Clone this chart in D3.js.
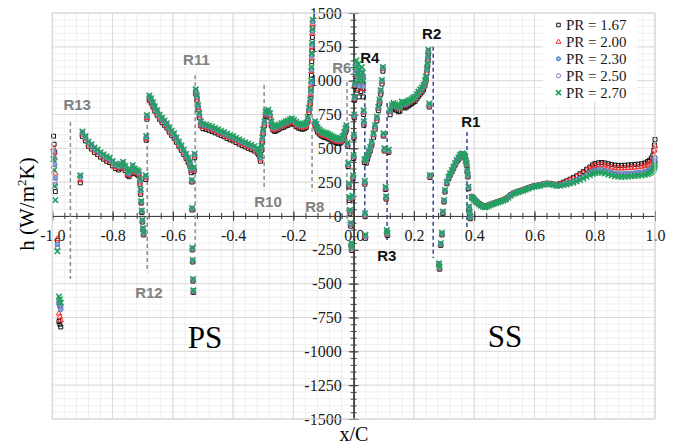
<!DOCTYPE html>
<html>
<head>
<meta charset="utf-8">
<script src="https://cdn.jsdelivr.net/npm/d3@7"></script>
<style>
  body { margin: 0; background: #fff; }
</style>
</head>
<body>
<script>
// x/C stations shared by every series (PS: -1..0, SS: 0..1)
const xc = [
  -0.996,-0.994,-0.992,-0.990,-0.983,-0.978,-0.975,-0.972,
  -0.907,
  -0.900,-0.890,-0.880,-0.870,-0.860,-0.850,-0.840,-0.830,-0.820,-0.810,-0.800,-0.790,-0.780,-0.772,-0.765,-0.758,-0.750,-0.745,-0.740,-0.733,-0.726,-0.719,-0.713,-0.709,-0.707,
  -0.705,-0.703,-0.701,-0.699,-0.697,
  -0.690,-0.688,-0.686,
  -0.678,-0.672,-0.666,-0.660,-0.652,-0.644,-0.636,-0.628,-0.620,-0.612,-0.604,-0.596,-0.588,-0.580,-0.572,-0.564,-0.556,-0.549,-0.543,-0.539,
  -0.537,-0.536,-0.535,-0.534,-0.533,-0.532,
  -0.530,-0.528,
  -0.524,-0.520,-0.516,-0.512,-0.507,-0.500,-0.490,-0.480,-0.470,-0.460,-0.450,-0.440,-0.430,-0.420,-0.410,-0.400,-0.390,-0.380,-0.370,-0.360,-0.350,-0.340,-0.330,-0.320,-0.316,-0.312,-0.309,-0.306,-0.303,-0.300,-0.296,-0.292,
  -0.288,-0.283,-0.278,-0.273,-0.268,-0.262,-0.255,-0.248,-0.240,-0.232,-0.225,-0.218,-0.211,-0.205,-0.198,-0.191,-0.184,-0.177,-0.170,-0.163,-0.157,-0.152,-0.148,-0.144,
  -0.142,-0.141,-0.140,-0.139,-0.138,-0.137,-0.136,
  -0.128,-0.124,-0.120,-0.114,-0.108,-0.102,-0.096,-0.090,-0.084,-0.078,-0.072,-0.066,-0.060,-0.054,-0.048,-0.042,-0.036,-0.031,-0.027,-0.024,
  -0.020,-0.018,-0.016,-0.014,-0.012,-0.010,-0.008,-0.006,
  -0.004,-0.002,0.000,0.001,0.002,0.003,0.004,
  0.006,0.009,0.012,0.015,0.018,0.021,0.024,0.027,0.030,0.032,
  0.033,0.034,0.036,0.037,0.038,0.039,
  0.042,0.046,0.050,0.055,0.060,0.066,0.071,0.077,0.082,0.086,0.090,0.094,0.097,
  0.099,0.102,0.106,0.108,0.110,0.112,0.116,
  0.121,0.127,0.132,0.138,0.143,0.149,0.154,0.160,0.165,0.171,0.177,0.182,0.187,0.193,0.198,0.204,0.210,0.215,0.221,0.227,0.232,0.237,0.240,0.243,0.245,0.247,0.248,
  0.251,0.253,
  0.283,0.285,0.289,0.293,0.296,0.300,0.303,0.309,0.315,0.320,0.326,0.331,0.337,0.342,0.348,0.353,0.358,0.362,0.366,0.370,0.373,0.375,0.377,0.379,0.381,0.383,0.385,0.387,
  0.392,0.396,0.400,0.405,0.410,0.416,0.422,0.429,0.436,0.443,0.450,0.457,0.464,0.472,0.480,0.488,0.497,0.505,0.513,0.521,0.530,0.538,0.546,0.555,0.563,0.571,0.580,0.591,0.600,0.610,0.619,0.630,0.641,0.652,
  0.663,0.674,0.685,0.696,0.707,0.718,0.729,0.740,0.751,0.762,0.773,0.784,0.793,0.801,0.812,0.823,0.834,0.845,0.856,0.867,0.878,0.889,0.900,0.911,0.922,0.933,0.944,0.955,0.966,0.975,0.982,0.988,0.993,0.996,0.998,1.000
];

// h (W/m2K), PR = 1.67
const h167 = [
  590,530,470,180,-180,-780,-800,-820,
  245,
  588,555,515,495,470,455,435,420,405,395,370,350,340,350,365,335,300,290,310,340,315,305,295,235,160,
  95,25,-45,-105,-140,
  270,560,715,
  855,835,805,775,745,715,690,670,650,620,595,575,545,515,485,455,425,395,365,320,
  251,44,-251,-340,-481,-565,
  330,430,
  900,855,785,725,665,645,640,633,625,615,605,595,585,573,563,555,543,531,521,510,500,490,480,465,455,435,405,485,545,605,665,735,
  740,750,725,665,635,625,630,640,650,655,665,670,680,687,675,660,650,645,641,645,655,695,765,825,
  870,940,1040,1140,1220,1320,1390,
  665,645,620,605,593,585,580,577,570,563,555,548,543,537,535,540,555,585,615,635,
  515,365,215,115,20,-75,-225,-255,
  125,275,425,575,725,855,955,
  980,1030,930,1000,880,960,920,980,940,880,
  750,670,395,235,-5,-165,
  390,420,450,480,520,580,640,704,778,830,900,975,1070,
  590,480,195,125,-125,-145,470,
  748,785,800,790,780,770,775,810,805,798,805,815,822,830,840,847,865,884,900,915,933,965,995,1055,1093,1145,1192,
  805,285,
  -365,-393,-217,-140,17,103,177,238,275,300,325,349,375,399,417,436,443,448,440,423,395,374,325,288,201,54,15,-20,
  144,136,126,113,104,93,83,75,70,75,83,89,95,101,107,113,119,129,141,156,169,176,183,189,193,201,209,217,223,227,230,237,242,239,
  236,232,240,250,260,272,285,297,312,328,346,362,378,387,393,395,392,386,380,376,374,374,375,377,379,381,383,386,392,402,412,428,450,485,525,565
];

// PR = 2.00
const h200 = [
  500,470,430,315,-170,-720,-745,-770,
  265,
  601,568,528,508,483,468,448,433,418,408,383,363,353,363,378,348,313,303,323,353,328,318,308,248,173,
  100,30,-40,-100,-135,
  280,570,725,
  868,848,818,788,758,728,703,683,663,633,608,588,558,528,498,468,438,408,378,333,
  256,49,-246,-335,-476,-560,
  340,440,
  913,868,798,738,678,658,653,646,638,628,618,608,598,586,576,568,556,544,534,523,513,503,493,478,468,448,418,498,558,618,678,748,
  753,763,738,678,648,638,643,653,663,668,678,683,693,700,688,673,663,658,654,658,668,708,778,838,
  900,970,1070,1170,1250,1350,1420,
  678,658,633,618,606,598,593,590,583,576,568,561,556,550,548,553,568,598,628,648,
  525,375,225,125,30,-65,-215,-245,
  135,285,435,585,735,865,965,
  1040,1090,990,1060,940,1020,980,1040,1000,940,
  765,685,405,245,5,-155,
  405,435,465,495,535,595,655,719,793,845,915,990,1085,
  595,485,200,130,-120,-140,475,
  768,805,820,810,800,790,795,830,825,818,825,835,842,850,860,867,885,904,920,935,953,985,1015,1075,1113,1165,1212,
  815,293,
  -360,-388,-212,-135,22,108,182,243,280,305,330,354,380,404,422,441,448,453,445,428,400,379,330,293,206,59,20,-15,
  142,134,124,111,102,91,81,73,68,73,81,87,93,99,105,111,117,127,139,154,167,174,181,187,191,199,207,215,221,225,228,235,240,237,
  234,229,236,245,254,265,277,288,302,317,334,349,363,371,376,377,374,367,360,355,352,352,353,355,357,359,361,364,370,379,388,400,420,450,485,515
];

// PR = 2.30
const h230 = [
  480,420,380,280,-210,-650,-670,-690,
  290,
  613,580,540,520,495,480,460,445,430,420,395,375,365,375,390,360,325,315,335,365,340,330,320,260,185,
  105,35,-35,-95,-130,
  290,580,735,
  880,860,830,800,770,740,715,695,675,645,620,600,570,540,510,480,450,420,390,345,
  261,54,-241,-330,-471,-555,
  350,450,
  925,880,810,750,690,670,665,658,650,640,630,620,610,598,588,580,568,556,546,535,525,515,505,490,480,460,430,510,570,630,690,760,
  765,775,750,690,660,650,655,665,675,680,690,695,705,712,700,685,675,670,666,670,680,720,790,850,
  915,985,1085,1185,1265,1365,1435,
  690,670,645,630,618,610,605,602,595,588,580,573,568,562,560,565,580,610,640,660,
  530,380,230,130,35,-60,-210,-240,
  140,290,440,590,740,870,970,
  1060,1110,1010,1080,960,1040,1000,1060,1020,960,
  770,690,410,250,10,-150,
  412,442,472,502,542,602,662,726,800,852,922,997,1092,
  602,492,207,137,-113,-133,482,
  775,812,827,817,807,797,802,837,832,825,832,842,849,857,867,874,892,911,927,942,960,992,1022,1082,1120,1172,1219,
  822,298,
  -355,-383,-207,-130,27,113,187,248,285,310,335,359,385,409,427,446,453,458,450,433,405,384,335,298,211,64,25,-10,
  140,132,122,109,100,89,79,71,66,71,79,85,91,97,103,109,115,125,137,152,165,172,179,185,189,197,205,213,219,223,226,233,238,235,
  232,225,229,235,241,248,257,267,278,291,305,318,330,337,342,341,336,329,322,316,312,311,312,314,316,318,320,323,328,335,342,352,365,385,405,430
];

// PR = 2.50
const h250 = [
  440,360,260,230,-230,-630,-650,-670,
  295,
  618,585,545,525,500,485,465,450,435,425,400,380,370,380,395,365,330,320,340,370,345,335,325,265,190,
  107,37,-33,-93,-128,
  295,585,740,
  885,865,835,805,775,745,720,700,680,650,625,605,575,545,515,485,455,425,395,350,
  263,56,-239,-328,-469,-553,
  355,455,
  930,885,815,755,695,675,670,663,655,645,635,625,615,603,593,585,573,561,551,540,530,520,510,495,485,465,435,515,575,635,695,765,
  770,780,755,695,665,655,660,670,680,685,695,700,710,717,705,690,680,675,671,675,685,725,795,855,
  920,990,1090,1190,1270,1370,1440,
  695,675,650,635,623,615,610,607,600,593,585,578,573,567,565,570,585,615,645,665,
  535,385,235,135,40,-55,-205,-235,
  145,295,445,595,745,875,975,
  1080,1130,1030,1100,980,1060,1020,1080,1040,980,
  775,695,415,255,15,-145,
  415,445,475,505,545,605,665,729,803,855,925,1000,1095,
  605,495,210,140,-110,-130,485,
  778,815,830,820,810,800,805,840,835,828,835,845,852,860,870,877,895,914,930,945,963,995,1025,1085,1123,1175,1222,
  825,300,
  -353,-381,-205,-128,29,115,189,250,287,312,337,361,387,411,429,448,455,460,452,435,407,386,337,300,213,66,27,-8,
  139,131,121,108,99,88,78,70,65,70,78,84,90,96,102,108,114,124,136,151,164,171,178,184,188,196,204,212,218,222,225,232,237,234,
  231,224,227,232,238,244,252,262,272,284,297,310,321,328,332,331,326,318,311,305,301,300,301,303,305,307,309,312,317,323,330,340,352,370,390,405
];

// PR = 2.70
const h270 = [
  420,340,220,118,-260,-595,-615,-640,
  300,
  623,590,550,530,505,490,470,455,440,430,405,385,375,385,400,370,335,325,345,375,350,340,330,270,195,
  110,40,-30,-90,-125,
  300,590,745,
  890,870,840,810,780,750,725,705,685,655,630,610,580,550,520,490,460,430,400,355,
  266,59,-236,-325,-466,-550,
  360,460,
  935,890,820,760,700,680,675,668,660,650,640,630,620,608,598,590,578,566,556,545,535,525,515,500,490,470,440,520,580,640,700,770,
  775,785,760,700,670,660,665,675,685,690,700,705,715,722,710,695,685,680,676,680,690,730,800,860,
  930,1000,1100,1200,1280,1380,1450,
  700,680,655,640,628,620,615,612,605,598,590,583,578,572,570,575,590,620,650,670,
  540,390,240,140,45,-50,-200,-230,
  150,300,450,600,750,880,980,
  1100,1150,1050,1120,1000,1080,1040,1100,1060,1000,
  780,700,420,260,20,-140,
  420,450,480,510,550,610,670,734,808,860,930,1005,1100,
  610,500,215,145,-105,-125,490,
  783,820,835,825,815,805,810,845,840,833,840,850,857,865,875,882,900,919,935,950,968,1000,1030,1090,1128,1180,1227,
  830,303,
  -350,-378,-202,-125,32,118,192,253,290,315,340,364,390,414,432,451,458,463,455,438,410,389,340,303,216,69,30,-5,
  138,130,120,107,98,87,77,69,64,69,77,83,89,95,101,107,113,123,135,150,163,170,177,183,187,195,203,211,217,221,224,231,236,233,
  230,222,224,229,234,240,247,256,266,278,290,302,312,318,322,320,315,307,300,294,290,289,290,292,294,296,298,300,305,310,316,325,335,350,365,380
];

const seriesNames = ["PR = 1.67", "PR = 2.00", "PR = 2.30", "PR = 2.50", "PR = 2.70"];
const seriesValues = [h167, h200, h230, h250, h270];

const xTicks = [-1.0, -0.8, -0.6, -0.4, -0.2, 0.0, 0.2, 0.4, 0.6, 0.8, 1.0];
const yTicks = [-1500, -1250, -1000, -750, -500, -250, 0, 250, 500, 750, 1000, 1250, 1500];

// rib markers: dashed line from y1 to y2 at x, label at (lx, ly), all in data units
const ribs = [
  { name: "R13", x: -0.940, y1: 695, y2: -465, lx: -0.963, ly: 783, side: "ps" },
  { name: "R12", x: -0.685, y1: 672, y2: -415, lx: -0.725, ly: -606, side: "ps" },
  { name: "R11", x: -0.526, y1: 1040, y2: -230, lx: -0.566, ly: 1116, side: "ps" },
  { name: "R10", x: -0.297, y1: 968, y2: 190, lx: -0.330, ly: 67, side: "ps" },
  { name: "R8", x: -0.138, y1: 857, y2: 180, lx: -0.161, ly: 30, side: "ps" },
  { name: "R6", x: -0.022, y1: 990, y2: -50, lx: -0.071, ly: 1057, side: "ps" },
  { name: "R4", x: 0.037, y1: 1040, y2: 20, lx: 0.022, ly: 1131, side: "ss" },
  { name: "R3", x: 0.111, y1: 835, y2: -200, lx: 0.078, ly: -333, side: "ss" },
  { name: "R2", x: 0.264, y1: 1250, y2: -310, lx: 0.227, ly: 1308, side: "ss" },
  { name: "R1", x: 0.376, y1: 620, y2: -100, lx: 0.357, ly: 658, side: "ss" }
];

const width = 684;
const height = 442;
const serif = "'Liberation Serif', 'Times New Roman', serif";

const svg = d3.select("body").append("svg")
  .attr("width", width)
  .attr("height", height)
  .style("display", "block");

svg.append("rect").attr("width", width).attr("height", height).attr("fill", "white");

const x = d3.scaleLinear().domain([-1, 1]).range([52.3, 655]);
const y = d3.scaleLinear().domain([-1500, 1500]).range([419, 13]);

// grid
const grid = svg.append("g");
grid.selectAll("line.vmin")
  .data(d3.range(-25, 26).map(i => i * 0.04))
  .join("line")
  .attr("x1", d => x(d)).attr("x2", d => x(d))
  .attr("y1", y(1500)).attr("y2", y(-1500))
  .attr("stroke", "#efefef");
grid.selectAll("line.hmin")
  .data(d3.range(-30, 31).map(i => i * 50))
  .join("line")
  .attr("x1", x(-1)).attr("x2", x(1))
  .attr("y1", d => y(d)).attr("y2", d => y(d))
  .attr("stroke", "#efefef");
grid.selectAll("line.vmaj")
  .data(xTicks)
  .join("line")
  .attr("x1", d => x(d)).attr("x2", d => x(d))
  .attr("y1", y(1500)).attr("y2", y(-1500))
  .attr("stroke", "#d9d9d9");
grid.selectAll("line.hmaj")
  .data(yTicks)
  .join("line")
  .attr("x1", x(-1)).attr("x2", x(1))
  .attr("y1", d => y(d)).attr("y2", d => y(d))
  .attr("stroke", "#d9d9d9");

// axes crossing at the origin
const axisColor = "#404040";
function styleAxis(g) {
  g.selectAll("line").attr("stroke", axisColor);
  g.selectAll("path").attr("stroke", axisColor);
  g.selectAll("text")
    .attr("fill", "#1a1a1a")
    .style("font-family", serif)
    .style("font-size", "16px");
}
const minorY = d3.range(-30, 31).map(i => i * 50);
const minorX = d3.range(-25, 26).map(i => i * 0.04);

svg.append("g").attr("transform", `translate(${x(0)},0)`)
  .call(d3.axisRight(y).tickValues(minorY).tickSize(3).tickSizeOuter(0).tickFormat(""))
  .call(styleAxis);
svg.append("g").attr("transform", `translate(${x(0)},0)`)
  .call(d3.axisLeft(y).tickValues(minorY).tickSize(3).tickSizeOuter(0).tickFormat(""))
  .call(styleAxis);
svg.append("g").attr("transform", `translate(${x(0)},0)`)
  .call(d3.axisRight(y).tickValues(yTicks).tickSize(5).tickSizeOuter(0).tickFormat(""))
  .call(styleAxis);
svg.append("g").attr("transform", `translate(${x(0)},0)`)
  .call(d3.axisLeft(y).tickValues(yTicks).tickSize(5).tickSizeOuter(0).tickPadding(7).tickFormat(d => String(d)))
  .call(styleAxis);

svg.append("g").attr("transform", `translate(0,${y(0)})`)
  .call(d3.axisTop(x).tickValues(minorX).tickSize(3).tickSizeOuter(0).tickFormat(""))
  .call(styleAxis);
svg.append("g").attr("transform", `translate(0,${y(0)})`)
  .call(d3.axisBottom(x).tickValues(minorX).tickSize(3).tickSizeOuter(0).tickFormat(""))
  .call(styleAxis);
svg.append("g").attr("transform", `translate(0,${y(0)})`)
  .call(d3.axisTop(x).tickValues(xTicks).tickSize(5).tickSizeOuter(0).tickFormat(""))
  .call(styleAxis);
svg.append("g").attr("transform", `translate(0,${y(0)})`)
  .call(d3.axisBottom(x).tickValues(xTicks).tickSize(5).tickSizeOuter(0).tickPadding(9).tickFormat(d => d.toFixed(1)))
  .call(styleAxis);

// rib dashed lines and labels
svg.append("g").selectAll("line")
  .data(ribs)
  .join("line")
  .attr("x1", d => x(d.x)).attr("x2", d => x(d.x))
  .attr("y1", d => y(d.y1)).attr("y2", d => y(d.y2))
  .attr("stroke", d => d.side === "ps" ? "#8c8c8c" : "#2f4a8a")
  .attr("stroke-width", 1.5)
  .attr("stroke-dasharray", "4,3");

// series markers
const markers = [
  { type: d3.symbolSquare2, size: 20, stroke: "#111111", fill: "none", sw: 1 },
  { type: d3.symbolTriangle2, size: 22, stroke: "#ff2a2a", fill: "none", sw: 1 },
  { type: d3.symbolCircle, size: 17, stroke: "#4f81bd", fill: "#8db3e2", sw: 1 },
  { type: d3.symbolCircle, size: 17, stroke: "#8e6fc0", fill: "none", sw: 1 },
  { type: d3.symbolX, size: 22, stroke: "#1fa35c", fill: "none", sw: 1.6 }
];

seriesValues.forEach((vals, s) => {
  const m = markers[s];
  const pts = xc.map((xv, i) => [xv, vals[i]]);
  svg.append("g").selectAll("path")
    .data(pts)
    .join("path")
    .attr("transform", d => `translate(${x(d[0])},${y(d[1])})`)
    .attr("d", d3.symbol().type(m.type).size(m.size))
    .attr("stroke", m.stroke)
    .attr("stroke-width", m.sw)
    .attr("fill", m.fill);
});

svg.append("g").selectAll("text")
  .data(ribs)
  .join("text")
  .attr("x", d => x(d.lx))
  .attr("y", d => y(d.ly))
  .attr("fill", d => d.side === "ps" ? "#808080" : "#111111")
  .style("font-family", "'Liberation Sans', Arial, sans-serif")
  .style("font-weight", "bold")
  .style("font-size", "15px")
  .text(d => d.name);

// plot border
svg.append("rect")
  .attr("x", x(-1)).attr("y", y(1500))
  .attr("width", x(1) - x(-1)).attr("height", y(-1500) - y(1500))
  .attr("fill", "none").attr("stroke", "#d9d9d9");

// side labels
svg.append("text").attr("x", 205).attr("y", 348).attr("text-anchor", "middle")
  .style("font-family", serif).style("font-size", "31px").text("PS");
svg.append("text").attr("x", 505).attr("y", 347).attr("text-anchor", "middle")
  .style("font-family", serif).style("font-size", "31px").text("SS");

// axis titles
const yt = svg.append("text")
  .attr("transform", "translate(34,204) rotate(-90)")
  .attr("text-anchor", "middle")
  .style("font-family", serif)
  .style("font-size", "21px");
yt.append("tspan").text("h (W/m");
yt.append("tspan").attr("dy", -8).style("font-size", "13px").text("2");
yt.append("tspan").attr("dy", 8).text("K)");

svg.append("text").attr("x", 354).attr("y", 441).attr("text-anchor", "middle")
  .style("font-family", serif).style("font-size", "20px").text("x/C");

// legend
const leg = svg.append("g");
leg.append("rect").attr("x", 543).attr("y", 14).attr("width", 94).attr("height", 88).attr("fill", "white");
seriesNames.forEach((name, i) => {
  const m = markers[i];
  const cy = 25 + i * 16.9;
  leg.append("path")
    .attr("transform", `translate(558.5,${cy})`)
    .attr("d", d3.symbol().type(m.type).size(m.size * 0.8))
    .attr("stroke", m.stroke).attr("stroke-width", m.sw).attr("fill", m.fill);
  leg.append("text")
    .attr("x", 566).attr("y", cy + 5)
    .attr("fill", "#1a1a1a")
    .style("font-family", serif).style("font-size", "15px")
    .text(name);
});
</script>
</body>
</html>
